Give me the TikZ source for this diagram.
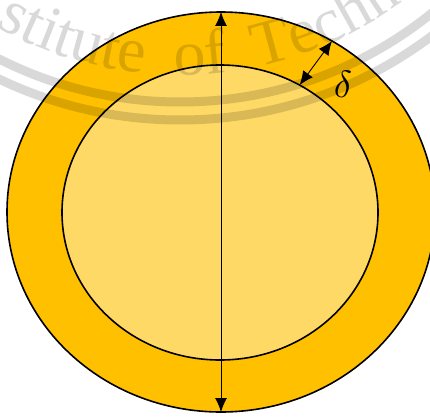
\documentclass[tikz,border=0pt]{standalone}
\usepackage{fontspec}
\newfontfamily\wmfont{Liberation Serif}
\usetikzlibrary{shapes.geometric,arrows.meta,decorations.text}
\definecolor{outerY}{HTML}{FFC000}
\definecolor{innerY}{HTML}{FFD966}
\begin{document}
\begin{tikzpicture}[x=1pt,y=1pt,
  ring/.style={draw=black, line width=1.6pt, ellipse, inner sep=0pt, outer sep=0pt},
  dimarrow/.style={line width=0.9pt, {Latex[length=14pt,width=12pt]}-{Latex[length=14pt,width=12pt]}},
  band/.style={line width=9pt, draw=black},
  ]
\path[use as bounding box] (0,0) rectangle (430,416);
\clip (0,0) rectangle (430,416);
\node[ring, fill=outerY, minimum width=428pt, minimum height=400pt] (outer) at (221,204) {};
\node[ring, fill=innerY, minimum width=316pt, minimum height=295pt] (inner) at (220,203.5) {};
\coordinate (wm) at (180,715);
\begin{scope}[opacity=0.15]
  \draw[band] (wm) circle[radius=401];
  \draw[band] (wm) circle[radius=419];
  \path[decorate, decoration={text along path, text align=left,
      text={|\wmfont\fontsize{64}{70}\selectfont\color{black}|stitute{\kern15pt} of{\kern14pt} Techn}}]
      (wm) ++(240.5:374) arc[start angle=240.5, end angle=345, radius=374];
\end{scope}
\draw[dimarrow] (outer.north) -- (outer.south);
\draw[dimarrow] (inner.58) -- (outer.57);
\node[scale=3.8, inner sep=0pt] (d) at (343,332) {$\delta$};
\end{tikzpicture}
\end{document}
